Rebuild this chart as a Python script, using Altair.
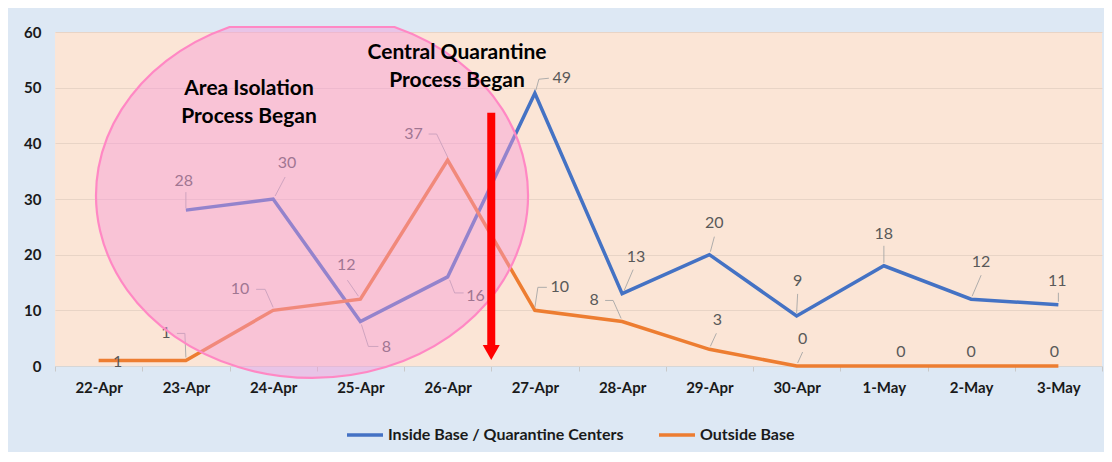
import altair as alt
import pandas as pd

# ---------------- data ----------------
dates = ["22-Apr", "23-Apr", "24-Apr", "25-Apr", "26-Apr", "27-Apr",
         "28-Apr", "29-Apr", "30-Apr", "1-May", "2-May", "3-May"]
inside = [None, 28, 30, 8, 16, 49, 13, 20, 9, 18, 12, 11]
outside = [1, 1, 10, 12, 37, 10, 8, 3, 0, 0, 0, 0]
series_names = ["Inside Base / Quarantine Centers", "Outside Base"]
y_ticks = [0, 10, 20, 30, 40, 50, 60]
notes = ["Area Isolation\nProcess Began", "Central Quarantine\nProcess Began"]

# ---------------- styling / layout ----------------
series_colors = ["#4472c4", "#ed7d31"]
W, H = 1047, 334
PXX = W / 12.0          # px per category
PXY = H / 60.0          # px per unit

# label centre offsets (px, from data point; +y = down)
in_lab = [None, (-2, -29), (14, -36), (26, 26), (28, 19), (27, -15), (14, -37),
          (5, -32), (1, -35), (0, -32), (10, -37), (-1, -24)]
out_lab = [(19, 2), (-20, -27), (-33, -21), (-14, -34), (-34, -26), (25, -23),
           (-28, -21), (8, -29), (6, -27), (17, -14), (0, -14), (-4, -14)]
# leader line vertices (px offsets from data point)
in_lead = [None, [(0, -2), (0, -18)], [(2, -3), (12, -22)], [(1, 3), (8, 25), (18, 25)],
           [(2, 3), (7, 16), (16, 16)], [(1, -3), (4, -14), (14, -15)],
           [(2, -3), (11, -24)], [(1, -3), (5, -18)], [(0, -3), (1, -22)],
           [(0, -3), (0, -20)], [(1, -3), (10, -24)], [(0, -3), (0, -12)]]
out_lead = [None, [(0, -3), (-1, -27), (-9, -27)], [(0, -3), (-8, -21), (-17, -21)],
            [(-2, -3), (-13, -19)], [(0, -3), (-11, -26), (-19, -26)],
            [(0, -3), (3, -23), (12, -23)], [(-1, -3), (-9, -21), (-17, -21)],
            [(1, -3), (7, -16)], [(1, -3), (6, -14)], None, None, None]

# ---------------- tables ----------------
rows = []
for i, d in enumerate(dates):
    if inside[i] is not None:
        rows.append({"idx": i, "value": inside[i], "series": series_names[0]})
for i, d in enumerate(dates):
    rows.append({"idx": i, "value": outside[i], "series": series_names[1]})
line_df = pd.DataFrame(rows)

lab_rows, lead_rows = [], []
lid = 0
for vals, labs, leads in ((inside, in_lab, in_lead), (outside, out_lab, out_lead)):
    for i, v in enumerate(vals):
        if v is None:
            continue
        dx, dy = labs[i]
        lab_rows.append({"x": i + dx / PXX, "y": v - dy / PXY, "t": str(v)})
        if leads[i]:
            for k, (lx, ly) in enumerate(leads[i]):
                lead_rows.append({"x": i + lx / PXX, "y": v - ly / PXY, "lid": lid, "ord": k})
            lid += 1
lab_df = pd.DataFrame(lab_rows)
lead_df = pd.DataFrame(lead_rows)

# first-line centres of the two annotations (page px -> data units)
note_df = pd.DataFrame({"t": notes,
                        "x": [(249 - 98.6) / PXX, (457 - 98.6) / PXX],
                        "y": [(366 - 89) / PXY, (366 - 53) / PXY]})
ell_df = pd.DataFrame({"x": [(312 - 98.6) / PXX], "y": [(366 - 195.6) / PXY]})
arrow_df = pd.DataFrame({"x": [4.5], "y": [45.5], "y2": [3.4], "yh": [2.43]})

# ---------------- encodings ----------------
js_dates = "[" + ",".join("'%s'" % d for d in dates) + "]"
xscale = alt.Scale(domain=[-0.5, 11.5], nice=False, zero=False)
yscale = alt.Scale(domain=[0, 60], nice=False)
xaxis = alt.Axis(values=[k - 0.5 for k in range(13)],
                 labelExpr="datum.value < 11 ? " + js_dates + "[datum.value + 0.5] : ''",
                 labelOffset=PXX / 2, labelFlush=False, labelOverlap=False,
                 grid=False, ticks=True, tickSize=5, tickColor="#c9c9c9",
                 domainColor="#d6d6d6", labelFontSize=15, labelFontWeight="bold",
                 labelColor="#1a1a1a", labelPadding=9, title=None)
yaxis = alt.Axis(values=y_ticks, grid=True, gridColor="#e8d4c6", domain=False, ticks=False,
                 labelFontSize=15, labelFontWeight="bold", labelColor="#1a1a1a",
                 labelPadding=14, labelFlush=False, title=None)


def X(f):
    return alt.X(f, type="quantitative", scale=xscale, axis=xaxis, title=None)


def Y(f):
    return alt.Y(f, type="quantitative", scale=yscale, axis=yaxis, title=None)


lines = alt.Chart(line_df).mark_line(strokeWidth=3.5).encode(
    x=X("idx"), y=Y("value"),
    color=alt.Color("series:N",
                    scale=alt.Scale(domain=series_names, range=series_colors),
                    legend=alt.Legend(orient="none", legendX=290, legendY=383,
                                      direction="horizontal", title=None,
                                      symbolType="stroke", symbolSize=1296,
                                      symbolStrokeWidth=3.5, labelFontSize=16,
                                      labelFontWeight="bold", labelColor="#1a1a1a",
                                      labelLimit=500, columnPadding=28, labelOffset=3)))

leaders = alt.Chart(lead_df).mark_line(color="#a6a6a6", strokeWidth=0.9).encode(
    x=X("x"), y=Y("y"), detail="lid:N", order="ord:Q")

labels = alt.Chart(lab_df).mark_text(fontSize=16, color="#595959", align="center",
                                     baseline="middle").encode(
    x=X("x"), y=Y("y"), text="t:N")

ry = 182.4 / 216.0
cy = -(195.6 - 27) / 216.0
hx = (1 - (cy / ry) ** 2) ** 0.5
ell_path = "M%.4f,%.4fL%.4f,%.4fA1,%.4f,0,1,1,%.4f,%.4fZ" % (-hx, cy, hx, cy, ry, -hx, cy)
ellipse = alt.Chart(ell_df).mark_point(shape=ell_path, size=432 ** 2, filled=True,
                                       fill="#f79ad8", fillOpacity=0.45, opacity=1,
                                       stroke="#ff88c4", strokeWidth=2.2,
                                       strokeOpacity=1).encode(x=X("x"), y=Y("y"))

shaft = alt.Chart(arrow_df).mark_rule(color="#ff0000", strokeWidth=8, strokeCap="butt").encode(
    x=X("x"), y=Y("y"), y2="y2")
head = alt.Chart(arrow_df).mark_point(shape="M-1,-0.88L1,-0.88L0,0.88Z", size=289,
                                      filled=True, fill="#ff0000", opacity=1,
                                      strokeWidth=0).encode(x=X("x"), y=Y("yh"))

note_text = alt.Chart(note_df).mark_text(fontSize=21, fontWeight="bold", color="#000000",
                                         align="center", baseline="middle",
                                         lineBreak="\n", lineHeight=28).encode(
    x=X("x"), y=Y("y"), text="t:N")

chart = alt.layer(lines, leaders, labels, ellipse, shaft, head, note_text).properties(
    width=W, height=H,
    padding={"left": 47, "top": 24, "right": 2, "bottom": 86},
    autosize=alt.AutoSizeParams(type="none"),
    background="#dde8f4",
).configure(font="Lato").configure_view(fill="#fbe5d6", stroke=None)

chart.save("out.html", embed_options={"renderer": "svg", "actions": False})
